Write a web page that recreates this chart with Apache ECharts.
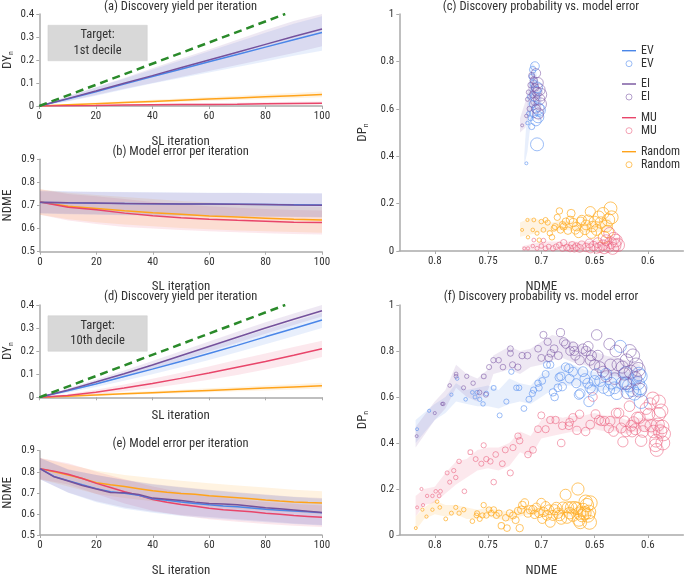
<!DOCTYPE html>
<html><head><meta charset="utf-8">
<script src="https://cdn.jsdelivr.net/npm/echarts@6/dist/echarts.min.js"></script>
<style>html,body{margin:0;padding:0;background:#fff}#c{width:685px;height:578px}</style>
</head><body><div id="c"></div>
<script>
// ---------- DATA ----------
const iter10 = [0,10,20,30,40,50,60,70,80,90,100];
const iter5 = [0,5,10,15,20,25,30,35,40,45,50,55,60,65,70,75,80,85,90,95,100];
const idealX = [0, 87];
const idealY = [0, 0.4];
const ticksDY = [0, 0.1, 0.2, 0.3, 0.4];

// (a) discovery yield, 1st decile
const aEV = [0,0.03,0.062,0.095,0.128,0.16,0.192,0.224,0.256,0.288,0.32];
const aEVlo = [0,0.02,0.045,0.072,0.098,0.122,0.146,0.17,0.194,0.218,0.24];
const aEVhi = [0,0.04,0.08,0.118,0.158,0.198,0.238,0.278,0.318,0.358,0.39];
const aEI = [0,0.032,0.065,0.099,0.132,0.166,0.2,0.234,0.268,0.302,0.335];
const aEIlo = [0,0.022,0.048,0.075,0.1,0.126,0.152,0.178,0.204,0.23,0.26];
const aEIhi = [0,0.042,0.082,0.122,0.164,0.205,0.246,0.288,0.33,0.37,0.40];
const aMU = [0,0.001,0.002,0.004,0.005,0.006,0.007,0.008,0.01,0.011,0.012];
const aMUlo = [0,0,0,0.001,0.002,0.002,0.003,0.004,0.005,0.006,0.007];
const aMUhi = [0,0.003,0.005,0.007,0.009,0.011,0.012,0.014,0.016,0.018,0.02];
const aRand = [0,0.005,0.01,0.015,0.02,0.025,0.03,0.035,0.04,0.045,0.05];
const aRandlo = [0,0.002,0.006,0.01,0.014,0.018,0.022,0.026,0.03,0.034,0.038];
const aRandhi = [0,0.008,0.015,0.021,0.027,0.033,0.039,0.045,0.051,0.057,0.063];

// (b) model error, 1st decile
const bEV = [0.713,0.712,0.71,0.709,0.708,0.707,0.706,0.705,0.704,0.703,0.702];
const bEVlo = [0.665,0.662,0.66,0.658,0.657,0.655,0.654,0.652,0.651,0.65,0.648];
const bEVhi = [0.765,0.762,0.76,0.758,0.757,0.756,0.755,0.755,0.754,0.754,0.753];
const bEI = [0.714,0.712,0.711,0.709,0.708,0.707,0.706,0.705,0.704,0.702,0.701];
const bEIlo = [0.668,0.664,0.662,0.66,0.658,0.657,0.655,0.654,0.652,0.651,0.65];
const bEIhi = [0.762,0.76,0.758,0.757,0.756,0.755,0.754,0.754,0.753,0.752,0.752];
const bMU = [0.715,0.692,0.682,0.667,0.656,0.647,0.641,0.636,0.632,0.628,0.626];
const bMUlo = [0.66,0.635,0.62,0.607,0.6,0.594,0.588,0.584,0.58,0.577,0.575];
const bMUhi = [0.77,0.75,0.74,0.728,0.715,0.705,0.697,0.69,0.685,0.68,0.678];
const bRand = [0.715,0.697,0.687,0.677,0.669,0.662,0.655,0.65,0.645,0.64,0.637];
const bRandlo = [0.66,0.64,0.628,0.618,0.61,0.603,0.597,0.592,0.588,0.585,0.582];
const bRandhi = [0.77,0.755,0.745,0.737,0.728,0.72,0.713,0.707,0.702,0.697,0.693];

// (d) discovery yield, 10th decile
const dEV = [0,0.028,0.058,0.09,0.122,0.155,0.19,0.225,0.262,0.298,0.335];
const dEVlo = [0,0.02,0.045,0.072,0.1,0.13,0.162,0.195,0.23,0.265,0.3];
const dEVhi = [0,0.036,0.07,0.106,0.142,0.18,0.218,0.255,0.293,0.33,0.365];
const dEI = [0,0.031,0.066,0.102,0.14,0.18,0.22,0.26,0.3,0.338,0.375];
const dEIlo = [0,0.024,0.055,0.088,0.123,0.16,0.198,0.236,0.275,0.313,0.35];
const dEIhi = [0,0.038,0.077,0.116,0.157,0.2,0.242,0.284,0.325,0.363,0.4];
const dMU = [0,0.008,0.022,0.04,0.06,0.082,0.105,0.13,0.155,0.182,0.21];
const dMUlo = [0,0.003,0.012,0.025,0.04,0.058,0.076,0.097,0.12,0.145,0.175];
const dMUhi = [0,0.014,0.033,0.055,0.08,0.106,0.134,0.163,0.19,0.218,0.245];
const dRand = [0,0.005,0.01,0.015,0.02,0.025,0.03,0.035,0.04,0.045,0.05];
const dRandlo = [0,0.002,0.006,0.01,0.014,0.018,0.022,0.026,0.03,0.034,0.038];
const dRandhi = [0,0.008,0.015,0.021,0.027,0.033,0.039,0.045,0.051,0.057,0.063];

// (e) model error, 10th decile
const eRand = [0.815,0.8,0.785,0.768,0.748,0.738,0.73,0.72,0.71,0.703,0.697,0.693,0.686,0.682,0.677,0.672,0.666,0.661,0.657,0.654,0.652];
const eMU = [0.815,0.803,0.788,0.768,0.745,0.725,0.705,0.688,0.668,0.655,0.645,0.636,0.627,0.62,0.615,0.61,0.603,0.598,0.592,0.588,0.584];
const eEV = [0.815,0.778,0.758,0.738,0.72,0.705,0.698,0.688,0.672,0.665,0.657,0.65,0.643,0.638,0.634,0.628,0.622,0.618,0.614,0.61,0.606];
const eEI = [0.815,0.776,0.756,0.735,0.718,0.702,0.701,0.692,0.675,0.67,0.664,0.656,0.65,0.647,0.643,0.636,0.629,0.625,0.619,0.613,0.607];
const eEVlo = [0.765,0.7,0.655,0.625,0.605,0.59,0.58,0.57,0.56,0.552,0.545];
const eEVhi = [0.865,0.81,0.785,0.76,0.74,0.725,0.712,0.7,0.69,0.68,0.672];
const eEIlo = [0.765,0.702,0.66,0.63,0.61,0.595,0.585,0.575,0.565,0.555,0.548];
const eEIhi = [0.865,0.812,0.785,0.762,0.742,0.728,0.715,0.703,0.692,0.682,0.675];
const eMUlo = [0.765,0.74,0.695,0.65,0.615,0.592,0.575,0.563,0.552,0.544,0.538];
const eMUhi = [0.865,0.84,0.8,0.765,0.73,0.703,0.685,0.67,0.657,0.648,0.64];
const eRandlo = [0.765,0.73,0.695,0.675,0.66,0.645,0.635,0.625,0.615,0.607,0.6];
const eRandhi = [0.865,0.835,0.805,0.785,0.77,0.757,0.745,0.735,0.725,0.715,0.708];

// (c) DP vs NDME, 1st decile : [NDME, DP] in iteration order
const cEV = [[0.714,0.37],[0.713,0.54],[0.712,0.58],[0.711,0.65],[0.710,0.56],[0.709,0.735],[0.709,0.525],[0.708,0.765],[0.708,0.62],[0.707,0.705],[0.707,0.58],[0.706,0.78],[0.706,0.65],[0.705,0.675],[0.705,0.55],[0.704,0.69],[0.703,0.565],[0.703,0.6],[0.702,0.595],[0.704,0.45]];
const cEI = [[0.718,0.53],[0.714,0.57],[0.713,0.64],[0.712,0.67],[0.711,0.6],[0.710,0.7],[0.709,0.74],[0.708,0.66],[0.707,0.72],[0.706,0.69],[0.706,0.63],[0.705,0.6],[0.705,0.75],[0.704,0.67],[0.703,0.71],[0.703,0.58],[0.702,0.64],[0.702,0.68],[0.701,0.62],[0.701,0.66]];
const cMU = [[0.716,0.011],[0.7125,0.011],[0.708,0.021],[0.707,0.046],[0.704,0.011],[0.7,0.021],[0.698,0.044],[0.696,0.011],[0.693,0.018],[0.689,0.011],[0.686,0.018],[0.683,0.025],[0.68,0.011],[0.679,0.035],[0.676,0.015],[0.673,0.011],[0.671,0.025],[0.669,0.011],[0.667,0.018],[0.664,0.011],[0.662,0.025],[0.658,0.015],[0.655,0.032],[0.654,0.011],[0.651,0.021],[0.648,0.011],[0.647,0.035],[0.645,0.015],[0.642,0.025],[0.641,0.011],[0.639,0.046],[0.637,0.018],[0.636,0.075],[0.635,0.035],[0.633,0.011],[0.632,0.053],[0.631,0.025],[0.63,0.044],[0.628,0.025]];
const cRand = [[0.718,0.089],[0.713,0.131],[0.7125,0.058],[0.708,0.089],[0.707,0.131],[0.704,0.075],[0.702,0.046],[0.7,0.124],[0.698,0.089],[0.696,0.131],[0.694,0.12],[0.692,0.075],[0.69,0.058],[0.688,0.096],[0.687,0.103],[0.685,0.142],[0.683,0.169],[0.682,0.089],[0.68,0.11],[0.679,0.103],[0.677,0.124],[0.675,0.086],[0.673,0.131],[0.672,0.159],[0.67,0.12],[0.668,0.089],[0.667,0.103],[0.665,0.075],[0.663,0.124],[0.662,0.131],[0.659,0.089],[0.658,0.11],[0.656,0.131],[0.654,0.166],[0.653,0.075],[0.652,0.103],[0.65,0.124],[0.648,0.089],[0.646,0.145],[0.644,0.12],[0.642,0.159],[0.641,0.058],[0.639,0.105],[0.638,0.082],[0.637,0.131],[0.635,0.18],[0.634,0.142]];
// ribbons: [NDME, low, high]
const cEVband = [[0.716,0.36,0.40],[0.713,0.42,0.62],[0.711,0.5,0.74],[0.709,0.55,0.80],[0.706,0.6,0.78],[0.703,0.55,0.72],[0.700,0.55,0.65]];
const cEIband = [[0.720,0.5,0.56],[0.715,0.52,0.63],[0.711,0.58,0.72],[0.707,0.62,0.75],[0.703,0.6,0.72],[0.700,0.58,0.66]];
const cMUband = [[0.718,0.0,0.02],[0.70,0.0,0.04],[0.68,0.0,0.04],[0.66,0.0,0.04],[0.64,0.0,0.05],[0.625,0.0,0.06]];
const cRandband = [[0.72,0.06,0.12],[0.71,0.07,0.14],[0.70,0.08,0.13],[0.69,0.08,0.12],[0.68,0.09,0.13],[0.66,0.08,0.12],[0.64,0.08,0.13],[0.635,0.09,0.14]];

// (f) DP vs NDME, 10th decile
const fEI = [[0.817,0.43],[0.800,0.53],[0.793,0.57],[0.792,0.57],[0.786,0.65],[0.780,0.70],[0.780,0.69],[0.773,0.64],[0.770,0.69],[0.764,0.66],[0.758,0.62],[0.754,0.69],[0.752,0.61],[0.749,0.73],[0.745,0.76],[0.740,0.76],[0.736,0.73],[0.729,0.81],[0.729,0.79],[0.727,0.74],[0.722,0.73],[0.718,0.78],[0.713,0.78],[0.703,0.81],[0.700,0.77],[0.698,0.87],[0.694,0.84],[0.693,0.77],[0.691,0.79],[0.688,0.81],[0.684,0.78],[0.682,0.88],[0.679,0.84],[0.677,0.83],[0.673,0.80],[0.670,0.82],[0.669,0.80],[0.668,0.78],[0.664,0.76],[0.661,0.81],[0.658,0.80],[0.656,0.82],[0.654,0.76],[0.653,0.78],[0.650,0.74],[0.648,0.87],[0.647,0.78],[0.645,0.73],[0.642,0.71],[0.639,0.69],[0.636,0.83],[0.635,0.74],[0.631,0.68],[0.630,0.80],[0.628,0.74],[0.624,0.73],[0.622,0.70],[0.621,0.66],[0.620,0.76],[0.619,0.62],[0.617,0.80],[0.616,0.71],[0.614,0.78],[0.612,0.68],[0.611,0.74],[0.609,0.72],[0.608,0.63]];
const fEV = [[0.8166,0.46],[0.8053,0.54],[0.7844,0.61],[0.779,0.68],[0.771,0.59],[0.7647,0.62],[0.7622,0.60],[0.7603,0.62],[0.7578,0.59],[0.7547,0.57],[0.7516,0.615],[0.7447,0.64],[0.7391,0.52],[0.7328,0.58],[0.7281,0.71],[0.7234,0.64],[0.7209,0.64],[0.7163,0.55],[0.7116,0.59],[0.7084,0.615],[0.7072,0.63],[0.7031,0.66],[0.7022,0.64],[0.6991,0.67],[0.6959,0.70],[0.6947,0.74],[0.6916,0.74],[0.6891,0.62],[0.6875,0.60],[0.6844,0.64],[0.6834,0.685],[0.6816,0.69],[0.6803,0.645],[0.6772,0.73],[0.6741,0.725],[0.6734,0.68],[0.6703,0.71],[0.6672,0.66],[0.6647,0.61],[0.6634,0.615],[0.6609,0.71],[0.6591,0.68],[0.6563,0.66],[0.6553,0.58],[0.6541,0.64],[0.6522,0.63],[0.65,0.67],[0.6484,0.70],[0.6447,0.67],[0.6416,0.64],[0.6391,0.70],[0.6366,0.63],[0.6344,0.66],[0.6313,0.64],[0.6291,0.615],[0.6259,0.82],[0.6241,0.66],[0.6209,0.705],[0.6197,0.66],[0.6178,0.65],[0.6147,0.63],[0.6125,0.615],[0.6094,0.66],[0.6084,0.70],[0.6072,0.64],[0.6063,0.58],[0.6072,0.69]];
const fMU = [[0.8166,0.12],[0.8125,0.20],[0.811,0.13],[0.8072,0.17],[0.8022,0.17],[0.7991,0.19],[0.7959,0.17],[0.7947,0.19],[0.7884,0.27],[0.786,0.23],[0.7822,0.28],[0.7803,0.25],[0.7772,0.32],[0.7722,0.19],[0.7666,0.36],[0.7616,0.33],[0.7563,0.31],[0.7541,0.39],[0.7516,0.33],[0.7478,0.32],[0.7447,0.23],[0.7428,0.35],[0.7366,0.31],[0.7338,0.37],[0.7291,0.27],[0.7266,0.38],[0.7219,0.43],[0.7203,0.41],[0.7125,0.35],[0.7078,0.37],[0.7031,0.46],[0.70,0.52],[0.6959,0.46],[0.6916,0.50],[0.6866,0.50],[0.6813,0.40],[0.6803,0.475],[0.6741,0.475],[0.6734,0.49],[0.6703,0.51],[0.6666,0.455],[0.6641,0.525],[0.6584,0.45],[0.6541,0.48],[0.6516,0.60],[0.6491,0.525],[0.6459,0.50],[0.6438,0.495],[0.6406,0.495],[0.6366,0.465],[0.6353,0.495],[0.6322,0.45],[0.6297,0.53],[0.6272,0.53],[0.625,0.465],[0.6234,0.405],[0.6219,0.495],[0.6203,0.45],[0.6172,0.56],[0.6156,0.475],[0.6147,0.45],[0.6134,0.49],[0.6116,0.46],[0.61,0.51],[0.6078,0.51],[0.6063,0.41],[0.6047,0.45],[0.6031,0.475],[0.6016,0.55],[0.5991,0.525],[0.5978,0.57],[0.5969,0.475],[0.5953,0.595],[0.5947,0.45],[0.5928,0.39],[0.5922,0.41],[0.5916,0.37],[0.5906,0.48],[0.5897,0.58],[0.5897,0.525],[0.5884,0.45],[0.5875,0.54],[0.5866,0.47],[0.5859,0.40],[0.5853,0.44]];
const fRand = [[0.8178,0.03],[0.8116,0.11],[0.8078,0.08],[0.8022,0.11],[0.7978,0.145],[0.7953,0.12],[0.7897,0.07],[0.7844,0.095],[0.7803,0.12],[0.7772,0.095],[0.7728,0.11],[0.7647,0.06],[0.7609,0.085],[0.7603,0.095],[0.7578,0.07],[0.7553,0.085],[0.7541,0.13],[0.7516,0.085],[0.7491,0.11],[0.7469,0.095],[0.7447,0.11],[0.7422,0.085],[0.7397,0.095],[0.7375,0.04],[0.7334,0.075],[0.7322,0.03],[0.7297,0.095],[0.7266,0.085],[0.7241,0.065],[0.7219,0.105],[0.7203,0.03],[0.7188,0.11],[0.7178,0.13],[0.7156,0.14],[0.7125,0.095],[0.7103,0.11],[0.7078,0.11],[0.7063,0.09],[0.7047,0.12],[0.7022,0.095],[0.70,0.14],[0.6991,0.07],[0.6978,0.10],[0.6959,0.125],[0.6947,0.085],[0.6928,0.11],[0.6916,0.055],[0.6891,0.085],[0.6875,0.11],[0.6859,0.12],[0.6844,0.095],[0.6828,0.085],[0.6813,0.07],[0.6797,0.12],[0.6772,0.175],[0.6759,0.075],[0.675,0.12],[0.6734,0.095],[0.6719,0.12],[0.6703,0.085],[0.6684,0.12],[0.6666,0.115],[0.6656,0.20],[0.6647,0.065],[0.6641,0.095],[0.6634,0.055],[0.6616,0.085],[0.6609,0.11],[0.6594,0.095],[0.6584,0.145],[0.6572,0.13],[0.6563,0.085],[0.6553,0.10],[0.6547,0.055],[0.6541,0.14]];
const fEIband = [[0.818,0.38,0.47],[0.80,0.50,0.58],[0.79,0.55,0.63],[0.78,0.64,0.74],[0.77,0.60,0.70],[0.76,0.58,0.68],[0.75,0.63,0.72],[0.745,0.70,0.78],[0.73,0.72,0.82],[0.72,0.70,0.80],[0.71,0.73,0.81],[0.70,0.74,0.84],[0.69,0.76,0.87],[0.68,0.77,0.86],[0.67,0.75,0.84],[0.66,0.74,0.82],[0.65,0.72,0.80],[0.64,0.70,0.78],[0.62,0.68,0.76],[0.607,0.66,0.74]];
const fEVband = [[0.818,0.40,0.50],[0.80,0.50,0.57],[0.79,0.53,0.60],[0.78,0.58,0.66],[0.77,0.57,0.63],[0.76,0.56,0.64],[0.75,0.56,0.65],[0.74,0.55,0.63],[0.73,0.57,0.68],[0.72,0.58,0.66],[0.71,0.57,0.65],[0.70,0.60,0.70],[0.69,0.63,0.72],[0.68,0.65,0.74],[0.67,0.65,0.74],[0.66,0.64,0.72],[0.65,0.62,0.71],[0.64,0.63,0.71],[0.62,0.62,0.71],[0.606,0.60,0.69]];
const fMUband = [[0.818,0.08,0.17],[0.81,0.13,0.20],[0.80,0.14,0.21],[0.79,0.18,0.27],[0.78,0.22,0.32],[0.77,0.25,0.33],[0.76,0.28,0.37],[0.75,0.29,0.38],[0.74,0.28,0.38],[0.73,0.30,0.40],[0.72,0.36,0.45],[0.71,0.34,0.43],[0.70,0.42,0.50],[0.69,0.43,0.52],[0.68,0.44,0.51],[0.67,0.45,0.52],[0.66,0.45,0.52],[0.65,0.46,0.53],[0.64,0.45,0.52],[0.63,0.45,0.52],[0.62,0.44,0.50],[0.61,0.45,0.51],[0.60,0.45,0.51],[0.59,0.42,0.50],[0.585,0.41,0.48]];
const fRandband = [[0.818,0.02,0.08],[0.81,0.07,0.12],[0.80,0.09,0.15],[0.79,0.08,0.13],[0.78,0.09,0.13],[0.77,0.07,0.12],[0.76,0.07,0.11],[0.75,0.08,0.12],[0.74,0.07,0.11],[0.73,0.06,0.10],[0.72,0.08,0.12],[0.71,0.09,0.12],[0.70,0.08,0.12],[0.69,0.08,0.11],[0.68,0.08,0.12],[0.67,0.08,0.12],[0.66,0.08,0.12],[0.654,0.08,0.11]];

// ---------- STYLE ----------
const FONT = "'Roboto Condensed','Liberation Sans Narrow','DejaVu Sans Condensed',Roboto,sans-serif";
const COL = {EV:'#4a86e8', EI:'#74519c', MU:'#e8456a', Random:'#ffa31a', ideal:'#2a8a2a'};
const CIRC = {EV:'rgba(90,145,240,0.75)', EI:'rgba(125,90,165,0.7)', MU:'rgba(235,95,125,0.7)', Random:'rgba(255,170,30,0.85)'};
const BAND = {EV:'rgba(74,134,232,0.13)', EI:'rgba(122,79,159,0.13)', MU:'rgba(232,69,106,0.12)', Random:'rgba(255,163,26,0.13)'};
const METHODS = ['Random','MU','EV','EI'];

const grids = [
  {left:39.3, top:14, width:282.7, height:92},
  {left:39.3, top:159.3, width:282.7, height:92.4},
  {left:399.3, top:14, width:284, height:237},
  {left:39.3, top:305, width:282.7, height:92.3},
  {left:39.3, top:450.7, width:282.7, height:92.6},
  {left:399.3, top:305, width:284, height:238.3}
];

const axLine = {show:true, lineStyle:{color:'#aaaaaa', width:1.5}};
const axTick = {show:true, length:3, lineStyle:{color:'#aaaaaa'}};
const axLab = {color:'#333', fontSize:11, fontFamily:FONT, margin:5};
const nameStyle = {color:'#333', fontSize:13, fontFamily:FONT};
function subName(m) {
  return {name:'{m|'+m+'}{s|n}', nameTextStyle:{fontFamily:FONT, rich:{
    m:{fontSize:13, color:'#333', fontFamily:FONT},
    s:{fontSize:8, color:'#333', fontFamily:FONT, padding:[7,0,0,0]}}}};
}
function xIter(gi, showLabels, gap) {
  return {type:'value', gridIndex:gi, min:0, max:100, interval:20, name:'SL iteration', nameLocation:'middle', nameGap:gap,
    nameTextStyle:nameStyle, axisLine:axLine, axisTick:axTick, axisLabel:Object.assign({show:showLabels}, axLab), splitLine:{show:false}};
}
function xNdme(gi) {
  return {type:'value', gridIndex:gi, min:0.5667, max:0.8333, inverse:true, name:'NDME', nameLocation:'middle', nameGap:29,
    nameTextStyle:nameStyle, axisLine:axLine, axisTick:axTick,
    axisLabel:Object.assign({showMinLabel:false, showMaxLabel:false, formatter:v=>String(+v.toFixed(2))}, axLab), splitLine:{show:false}};
}
function yAx(gi, min, max, interval, extra) {
  return Object.assign({type:'value', gridIndex:gi, min, max, interval, nameLocation:'middle', nameRotate:90,
    axisLine:axLine, axisTick:axTick, axisLabel:axLab, splitLine:{show:false}}, extra);
}

const xAxis = [xIter(0,true,29), xIter(1,true,29), xNdme(2), xIter(3,false,12), xIter(4,true,29), xNdme(5)];
const yAxis = [
  yAx(0,0,0.4,0.1, Object.assign({nameGap:24}, subName('DY'))),
  yAx(1,0.5,0.9,0.1, {name:'NDME', nameGap:26, nameTextStyle:nameStyle}),
  yAx(2,0,1,0.2, Object.assign({nameGap:29}, subName('DP'))),
  yAx(3,0,0.4,0.1, Object.assign({nameGap:24}, subName('DY'))),
  yAx(4,0.5,0.9,0.1, {name:'NDME', nameGap:26, nameTextStyle:nameStyle}),
  yAx(5,0,1,0.2, Object.assign({nameGap:29}, subName('DP')))
];

// ---------- SERIES BUILDERS ----------
function band(name, pts, fill, lineColor, ai) {
  return {type:'custom', name, xAxisIndex:ai, yAxisIndex:ai, silent:true, z:1,
    itemStyle:{color:lineColor}, data:[[pts[0][0], pts[0][1]]], clip:true,
    renderItem:(params, api) => {
      if (params.dataIndex !== 0) return null;
      const up = pts.map(p => api.coord([p[0], p[2]]));
      const lo = pts.map(p => api.coord([p[0], p[1]])).reverse();
      return {type:'polygon', shape:{points:up.concat(lo)}, style:{fill}};
    }};
}
function zip3(xs, lo, hi) { return xs.map((x,i)=>[x, lo[i], hi[i]]); }
function line(name, xs, ys, color, ai, extra) {
  return Object.assign({type:'line', name, xAxisIndex:ai, yAxisIndex:ai, data:xs.map((x,i)=>[x, ys[i]]),
    showSymbol:false, symbol:'none', silent:true, z:3, lineStyle:{color, width:1.5}, itemStyle:{color}}, extra||{});
}
function scatter(name, pts, key, ai, smin, smax) {
  const n = pts.length;
  return {type:'scatter', name, xAxisIndex:ai, yAxisIndex:ai, data:pts, silent:true, z:4, symbol:'circle',
    symbolSize:(v, p) => smin + (smax - smin) * p.dataIndex / (n - 1),
    itemStyle:{color:'rgba(255,255,255,0)', borderColor:CIRC[key], borderWidth:1}};
}

const series = [];
// (a)
const aSet = {EV:[aEV,aEVlo,aEVhi], EI:[aEI,aEIlo,aEIhi], MU:[aMU,aMUlo,aMUhi], Random:[aRand,aRandlo,aRandhi]};
const bSet = {EV:[bEV,bEVlo,bEVhi], EI:[bEI,bEIlo,bEIhi], MU:[bMU,bMUlo,bMUhi], Random:[bRand,bRandlo,bRandhi]};
const dSet = {EV:[dEV,dEVlo,dEVhi], EI:[dEI,dEIlo,dEIhi], MU:[dMU,dMUlo,dMUhi], Random:[dRand,dRandlo,dRandhi]};
const eSet = {EV:[eEV,eEVlo,eEVhi], EI:[eEI,eEIlo,eEIhi], MU:[eMU,eMUlo,eMUhi], Random:[eRand,eRandlo,eRandhi]};
[[aSet,0,'a',iter10],[bSet,1,'b',iter10],[dSet,3,'d',iter10],[eSet,4,'e',iter5]].forEach(([set, ai, tag, xs]) => {
  METHODS.forEach(m => series.push(band(tag+' band '+m, zip3(iter10, set[m][1], set[m][2]), BAND[m], COL[m], ai)));
  METHODS.forEach(m => series.push(line(tag+' '+m, xs, set[m][0], COL[m], ai)));
});
[0,3].forEach(ai => series.push(line('ideal '+ai, idealX, idealY, COL.ideal, ai,
  {z:5, lineStyle:{color:COL.ideal, width:2.5, type:[8,5]}})));

// (c)
const cSet = {EV:[cEV,cEVband], EI:[cEI,cEIband], MU:[cMU,cMUband], Random:[cRand,cRandband]};
const fSet = {EV:[fEV,fEVband], EI:[fEI,fEIband], MU:[fMU,fMUband], Random:[fRand,fRandband]};
METHODS.forEach(m => series.push(band(m, cSet[m][1], BAND[m], COL[m], 2)));
METHODS.forEach(m => series.push(scatter(m+' pts', cSet[m][0], m, 2, 3, 13)));
METHODS.forEach(m => series.push(band('f band '+m, fSet[m][1], BAND[m], COL[m], 5)));
METHODS.forEach(m => series.push(scatter('f '+m, fSet[m][0], m, 5, 3, 14)));

// legend in (c): four groups
const linePath = 'path://M0,0H20V2H0Z';
const legendTops = [44.7, 78, 111.7, 145.7];
const legends = ['EV','EI','MU','Random'].map((m, i) => ({
  orient:'vertical', left:622, top:legendTops[i], itemGap:1, itemWidth:14, itemHeight:6, padding:0,
  selectedMode:false, textStyle:{color:'#333', fontSize:12, fontFamily:FONT},
  formatter: n => n.replace(' pts',''),
  data:[
    {name:m, icon:linePath, itemStyle:{color:COL[m], borderWidth:0}},
    {name:m+' pts', icon:'circle', itemStyle:{color:'rgba(255,255,255,0)', borderColor:CIRC[m], borderWidth:1}}
  ]
}));

const titleTxt = [
  ['(a) Discovery yield per iteration', 180.6, 0],
  ['(b) Model error per iteration', 180.6, 145],
  ['(c) Discovery probability vs. model error', 541, 0],
  ['(d) Discovery yield per iteration', 180.6, 290],
  ['(e) Model error per iteration', 180.6, 437],
  ['(f) Discovery probability vs. model error', 541, 290]
];
const title = titleTxt.map(([t,x,y]) => ({text:t, left:x, top:y, textAlign:'center', padding:0,
  textStyle:{fontSize:12.5, fontWeight:'normal', color:'#333', fontFamily:FONT}}));

function targetBox(y, line2) {
  return {type:'group', left:47.7, top:y, children:[
    {type:'rect', shape:{x:0, y:0, width:99.3, height:35.5}, style:{fill:'#d8d8d8', stroke:'#cccccc', lineWidth:0.5}},
    {type:'text', x:49.6, y:10, style:{text:'Target:', fill:'#333', font:'12.5px '+FONT, textAlign:'center', textVerticalAlign:'middle'}},
    {type:'text', x:49.6, y:25.5, style:{text:line2, fill:'#333', font:'12.5px '+FONT, textAlign:'center', textVerticalAlign:'middle'}}
  ]};
}

const chart = echarts.init(document.getElementById('c'), null, {renderer:'canvas'});
chart.setOption({
  animation:false, backgroundColor:'#fff',
  title, grid:grids, xAxis, yAxis, legend:legends, series,
  graphic:[targetBox(25, '1st decile'), targetBox(315.5, '10th decile')]
});
</script></body></html>
